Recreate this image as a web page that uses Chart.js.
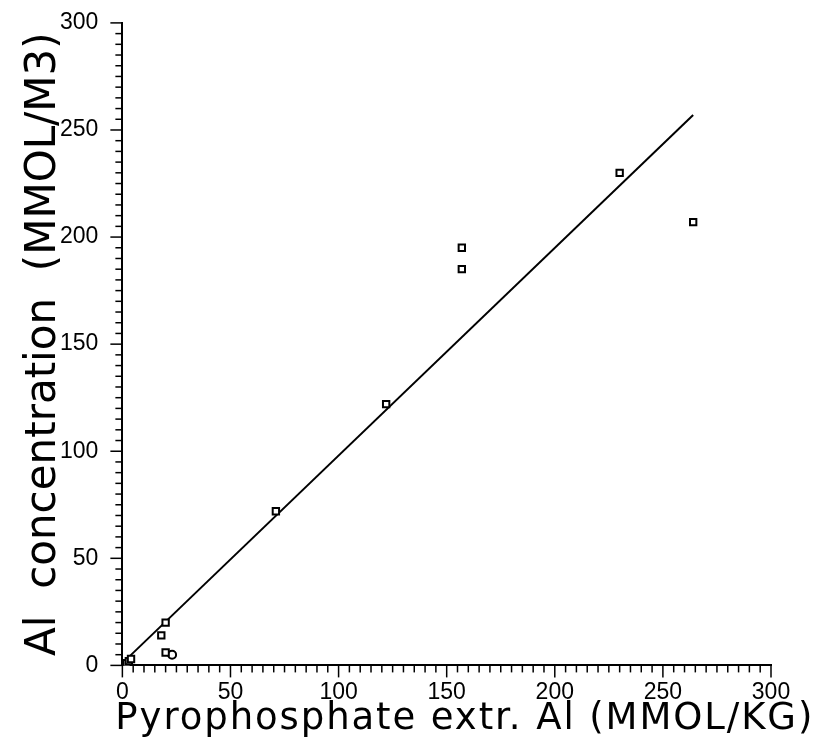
<!DOCTYPE html>
<html>
<head>
<meta charset="utf-8">
<script src="https://cdn.jsdelivr.net/npm/chart.js@4.4.1/dist/chart.umd.min.js"></script>
<style>
  html, body { margin: 0; padding: 0; background: #fff; }
  #wrap { width: 819px; height: 752px; }
</style>
</head>
<body>
<div id="wrap"><canvas id="alChart" width="819" height="752"></canvas></div>
<script>
// ── Data ──
const pyroAl   = [2, 3, 4, 18, 20, 20, 71, 122, 157, 157, 230, 264];
const alConc   = [1, 2, 3, 14, 20, 6, 72, 122, 195, 185, 230, 207];
const circleX  = [23];
const circleY  = [5];
const fitX     = [1, 264];
const fitY     = [2, 257];
const tickVals = [0, 50, 100, 150, 200, 250, 300];
const xTitle   = 'Pyrophosphate extr. Al (MMOL/KG)';

const toPoints = (xs, ys) => xs.map((v, i) => ({ x: v, y: ys[i] }));

// ── Small outward ticks every 5 units, long ones on the labels ──
const axisTicks = {
  id: 'axisTicks',
  afterDraw(chart) {
    const { ctx, scales: { x, y } } = chart;
    ctx.save();
    ctx.strokeStyle = '#000';
    ctx.lineWidth = 1.5;
    for (let v = 0; v <= 300; v += 5) {
      const len = tickVals.includes(v) ? 12 : 7;
      const px = x.getPixelForValue(v);
      ctx.beginPath();
      ctx.moveTo(px, x.top);
      ctx.lineTo(px, x.top + len);
      ctx.stroke();
      const py = y.getPixelForValue(v);
      ctx.beginPath();
      ctx.moveTo(y.right, py);
      ctx.lineTo(y.right - len, py);
      ctx.stroke();
    }
    ctx.restore();
  }
};

// ── X title: wider than the axis in the original, so drawn here ──
const wideXTitle = {
  id: 'wideXTitle',
  afterDraw(chart) {
    const { ctx, scales: { x } } = chart;
    ctx.save();
    ctx.font = '37px "DejaVu Sans"';
    ctx.fillStyle = '#000';
    ctx.textBaseline = 'alphabetic';
    ctx.textAlign = 'left';
    const target = 697;
    const natural = ctx.measureText(xTitle).width;
    ctx.letterSpacing = Math.max(0, (target - natural) / (xTitle.length - 1)) + 'px';
    ctx.fillText(xTitle, x.left - 7, x.top + 64, target + 4);
    ctx.restore();
  }
};

const tickFont = { family: 'Liberation Sans', size: 23 };

new Chart(document.getElementById('alChart'), {
  type: 'scatter',
  data: {
    datasets: [
      {
        data: toPoints(pyroAl, alConc),
        pointStyle: 'rect',
        pointRadius: 4.5,
        borderColor: '#000',
        backgroundColor: '#fff',
        borderWidth: 2
      },
      {
        data: toPoints(circleX, circleY),
        pointStyle: 'circle',
        pointRadius: 4,
        borderColor: '#000',
        backgroundColor: '#fff',
        borderWidth: 2
      },
      {
        type: 'line',
        data: toPoints(fitX, fitY),
        borderColor: '#000',
        borderWidth: 2,
        pointRadius: 0,
        fill: false
      }
    ]
  },
  options: {
    responsive: false,
    animation: false,
    layout: { padding: { top: 6, right: 48, left: 23, bottom: 41 } },
    plugins: { legend: { display: false }, tooltip: { enabled: false } },
    scales: {
      x: {
        type: 'linear',
        min: 0, max: 300,
        grid: { display: false },
        border: { display: true, color: '#000', width: 2 },
        afterBuildTicks: (axis) => { axis.ticks = tickVals.map(v => ({ value: v })); },
        ticks: { color: '#000', font: tickFont, padding: 5, maxRotation: 0 },
        title: { display: false }
      },
      y: {
        type: 'linear',
        min: 0, max: 300,
        grid: { display: false },
        border: { display: true, color: '#000', width: 2 },
        afterBuildTicks: (axis) => { axis.ticks = tickVals.map(v => ({ value: v })); },
        ticks: { color: '#000', font: { family: 'Liberation Sans', size: 23, lineHeight: 0.6 }, padding: 16 },
        title: {
          display: true,
          text: 'Al  concentration  (MMOL/M3)',
          color: '#000',
          font: { family: 'DejaVu Sans', size: 42, lineHeight: 1.0 },
          padding: { top: 0, bottom: -21 }
        }
      }
    }
  },
  plugins: [axisTicks, wideXTitle]
});
</script>
</body>
</html>
